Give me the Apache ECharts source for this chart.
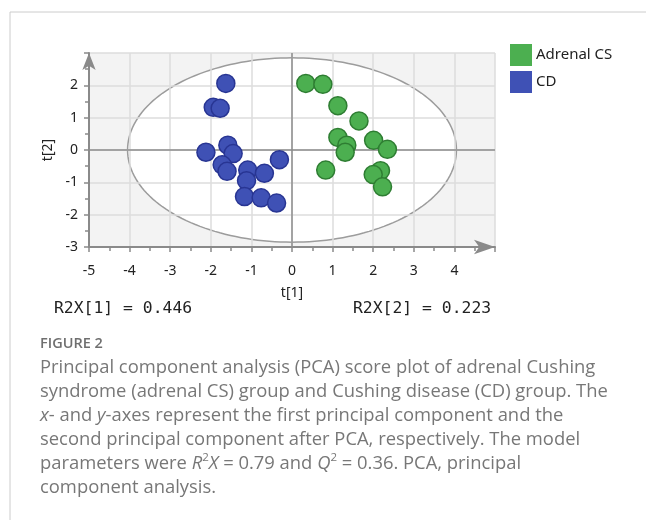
<!DOCTYPE html>
<html><head><meta charset="utf-8">
<script src="https://cdn.jsdelivr.net/npm/echarts@6/dist/echarts.min.js"></script>
<style>html,body{margin:0;padding:0;background:#fff}#c{width:646px;height:520px}</style>
</head><body><div id="c"></div>
<script>
// ---- data ----
const groupNames = ['Adrenal CS', 'CD'];
const adrenalCS = [
  [0.34, 2.06], [0.76, 2.03], [1.13, 1.37], [1.65, 0.90], [1.13, 0.39],
  [1.35, 0.15], [1.31, -0.07], [2.01, 0.30], [2.35, 0.02], [0.83, -0.62],
  [2.18, -0.64], [2.00, -0.76], [2.23, -1.14]
];
const cd = [
  [-1.63, 2.06], [-1.94, 1.32], [-1.77, 1.29], [-2.12, -0.07], [-1.58, 0.15],
  [-1.45, -0.11], [-0.31, -0.30], [-1.72, -0.46], [-1.60, -0.66], [-1.09, -0.62],
  [-0.68, -0.72], [-1.12, -0.95], [-1.17, -1.44], [-0.76, -1.48], [-0.38, -1.64]
];
const xRange = [-5, 5];
const yRange = [-3, 3];
const ellipseAxes = [4.05, 2.85]; // Hotelling T2 ellipse semi-axes
const r2xLabels = ['R2X[1] = 0.446', 'R2X[2] = 0.223'];
const axisNames = ['t[1]', 't[2]'];

const chart = echarts.init(document.getElementById('c'), null, {renderer: 'canvas'});
const FONT = 'Noto Sans';
const CAP = 'Open Sans';
const capColor = '#777777';
const axisGray = '#8a8a8a';

function axisCommon(range, arrowSize, arrowOffset) {
  return {
    type: 'value', min: range[0], max: range[1], interval: 1, z: 2,
    axisLine: {onZero: false, lineStyle: {color: axisGray, width: 2},
      symbol: ['none', 'arrow'], symbolSize: arrowSize, symbolOffset: [0, arrowOffset]},
    axisTick: {show: true, length: 5, lineStyle: {color: axisGray, width: 1.5}},
    minorTick: {show: true, splitNumber: 2, length: 4, lineStyle: {color: axisGray, width: 1.5}},
    axisLabel: {showMaxLabel: false, fontSize: 14, color: '#222', fontFamily: FONT},
    splitLine: {show: true, lineStyle: {color: '#dcdcdc', width: 1.5}},
    nameTextStyle: {fontSize: 14, color: '#222', fontFamily: FONT},
    nameLocation: 'middle'
  };
}

const xAxis = axisCommon(xRange, [11, 21], 0);
xAxis.axisLabel.margin = 17; xAxis.name = axisNames[0]; xAxis.nameGap = 39;
const yAxis = axisCommon(yRange, [10, 17], 0);
yAxis.axisLabel.margin = 11; yAxis.name = axisNames[1]; yAxis.nameGap = 23;

const captionLines = [
  'Principal component analysis (PCA) score plot of adrenal Cushing',
  'syndrome (adrenal CS) group and Cushing disease (CD) group. The',
  '{i|x}- and {i|y}-axes represent the first principal component and the',
  'second principal component after PCA, respectively. The model',
  'parameters were {i|R}{sup|2}{i|X} = 0.79 and {i|Q}{sup|2} = 0.36. PCA, principal',
  'component analysis.'
];
const CAPSIZE = 18.4;
const capRich = {
  i: {fontStyle: 'italic', fontSize: CAPSIZE, fontFamily: CAP, fill: capColor, lineHeight: 24},
  sup: {fontSize: 11.5, fontFamily: CAP, fill: capColor, verticalAlign: 'top', lineHeight: 14}
};

const graphics = [
  {type: 'line', shape: {x1: 10, y1: 12, x2: 646, y2: 12}, style: {stroke: '#cccccc', lineWidth: 1}, silent: true},
  {type: 'line', shape: {x1: 10, y1: 12, x2: 10, y2: 520}, style: {stroke: '#cccccc', lineWidth: 1}, silent: true},
  {type: 'text', x: 54, y: 309, style: {text: r2xLabels[0], font: '16.4px "DejaVu Sans Mono"', fill: '#222', verticalAlign: 'middle'}},
  {type: 'text', x: 353, y: 309, style: {text: r2xLabels[1], font: '16.4px "DejaVu Sans Mono"', fill: '#222', verticalAlign: 'middle'}},
  {type: 'text', x: 40, y: 344, style: {text: 'FIGURE 2', font: '600 14.5px "Open Sans"', fill: '#6f6f6f', verticalAlign: 'middle'}}
];
captionLines.forEach((t, k) => {
  graphics.push({type: 'text', x: 40, y: 368 + 24 * k, style: {
    text: t, fontSize: CAPSIZE, fontFamily: CAP, fill: capColor, verticalAlign: 'middle', lineHeight: 24, rich: capRich}});
});

chart.setOption({
  animation: false,
  grid: {left: 89, top: 53, right: 151, bottom: 273, show: true, backgroundColor: '#f3f3f3', borderWidth: 0},
  legend: {
    data: groupNames, orient: 'vertical', left: 510, top: 44, padding: 0, itemWidth: 22, itemHeight: 22, itemGap: 5,
    icon: 'rect', itemStyle: {borderWidth: 0},
    textStyle: {fontSize: 15, color: '#222', fontFamily: FONT, padding: [0, 0, 0, -1]}
  },
  xAxis: xAxis,
  yAxis: yAxis,
  graphic: graphics,
  series: [
    {
      type: 'custom', z: 1, silent: true, data: [[0, 0]],
      renderItem: function (params, api) {
        const pts = [];
        for (let k = 0; k < 180; k++) {
          const t = k / 180 * Math.PI * 2;
          pts.push(api.coord([ellipseAxes[0] * Math.cos(t), ellipseAxes[1] * Math.sin(t)]));
        }
        return {type: 'polygon', shape: {points: pts}, style: {fill: '#ffffff', stroke: '#9c9c9c', lineWidth: 1.5}};
      }
    },
    {
      type: 'custom', z: 3, silent: true, data: [[0, 0]],
      renderItem: function (params, api) {
        const a = api.coord([xRange[0], 0]), b = api.coord([xRange[1], 0]);
        const c = api.coord([0, yRange[0]]), d = api.coord([0, yRange[1]]);
        return {type: 'group', children: [
          {type: 'line', shape: {x1: a[0], y1: a[1], x2: b[0], y2: b[1]}, style: {stroke: '#8c8c8c', lineWidth: 1.5}},
          {type: 'line', shape: {x1: c[0], y1: c[1], x2: d[0], y2: d[1]}, style: {stroke: '#8c8c8c', lineWidth: 1.5}}
        ]};
      }
    },
    {
      name: groupNames[0], type: 'scatter', z: 5, data: adrenalCS, symbolSize: 18,
      itemStyle: {color: '#4caf50', borderColor: '#2e7d32', borderWidth: 1.5, opacity: 1}
    },
    {
      name: groupNames[1], type: 'scatter', z: 5, data: cd, symbolSize: 18,
      itemStyle: {color: '#3f51b5', borderColor: '#283593', borderWidth: 1.5, opacity: 1}
    }
  ]
});
</script>
</body></html>
